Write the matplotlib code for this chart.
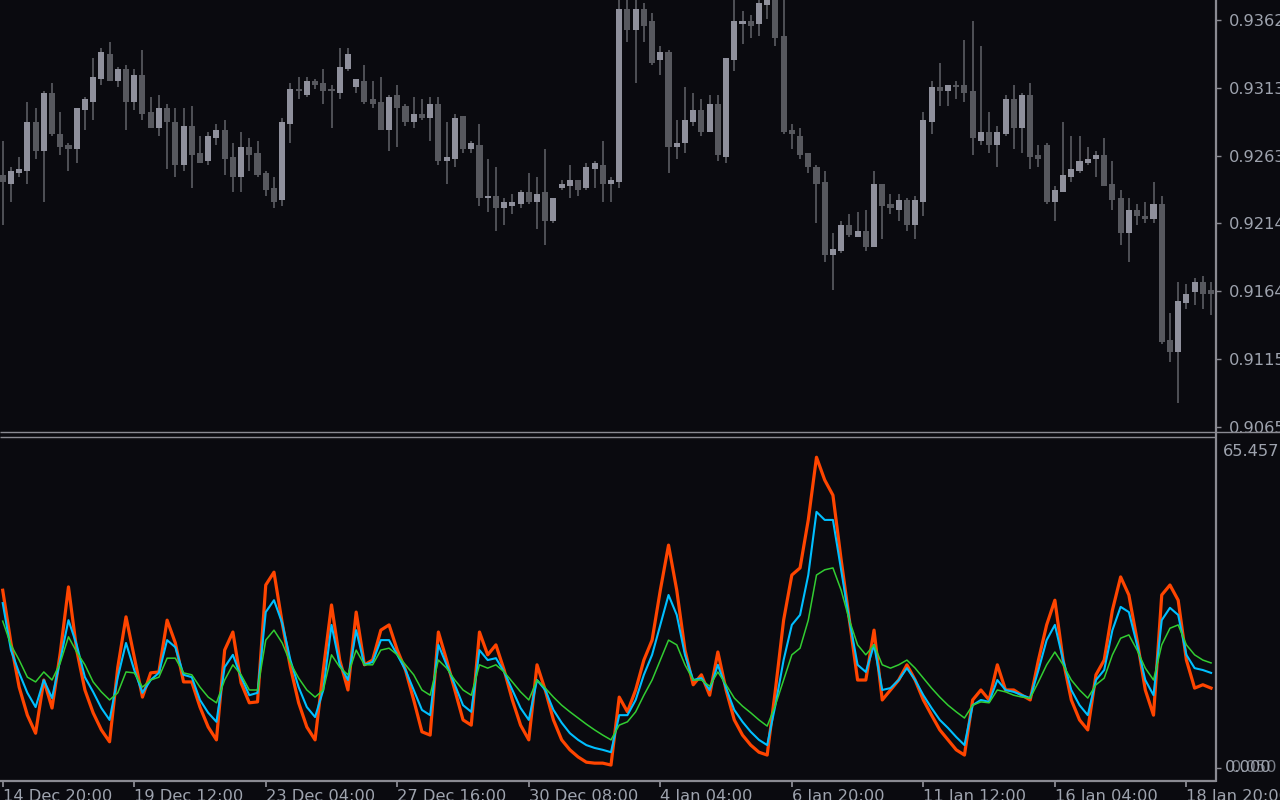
import matplotlib

matplotlib.use("Agg")
import matplotlib.pyplot as plt  # noqa: E402
from matplotlib.lines import Line2D  # noqa: E402

W, H = 1280, 800
BG = "#0a0a0f"
FRAME = "#8a8a92"
TEXT = "#9ea3ae"
BULL = "#8f909c"
BEAR = "#57585e"
WICK = "#55565c"

# H4 candles, oldest first
opens = [0.92489, 0.92423, 0.92503, 0.92518, 0.92875, 0.92664, 0.93087, 0.92788, 0.92708, 0.92678,
         0.92963, 0.93021, 0.93189, 0.93372, 0.93175, 0.93262, 0.93021, 0.93219, 0.92948, 0.92832,
         0.92978, 0.92875, 0.92562, 0.92846, 0.92649, 0.92591, 0.92759, 0.92817, 0.92620, 0.92474,
         0.92693, 0.92649, 0.92503, 0.92394, 0.92306, 0.92861, 0.93116, 0.93073, 0.93175, 0.93160,
         0.93116, 0.93087, 0.93262, 0.93131, 0.93175, 0.93043, 0.93021, 0.92817, 0.93073, 0.92992,
         0.92875, 0.92934, 0.92905, 0.93007, 0.92591, 0.92605, 0.92919, 0.92678, 0.92708, 0.92321,
         0.92335, 0.92248, 0.92262, 0.92277, 0.92364, 0.92291, 0.92364, 0.92153, 0.92394, 0.92408,
         0.92452, 0.92394, 0.92532, 0.92562, 0.92423, 0.92437, 0.93700, 0.93547, 0.93700, 0.93613,
         0.93328, 0.93386, 0.92693, 0.92722, 0.92875, 0.92963, 0.92802, 0.93007, 0.92620, 0.93328,
         0.93591, 0.93613, 0.93591, 0.93730, 0.93795, 0.93503, 0.92817, 0.92773, 0.92649, 0.92547,
         0.92437, 0.91905, 0.91934, 0.92124, 0.92036, 0.92080, 0.91963, 0.92423, 0.92277, 0.92233,
         0.92306, 0.92124, 0.92291, 0.92875, 0.93131, 0.93102, 0.93146, 0.93146, 0.93102, 0.92737,
         0.92802, 0.92708, 0.92788, 0.93043, 0.92832, 0.93073, 0.92635, 0.92708, 0.92291, 0.92364,
         0.92474, 0.92518, 0.92576, 0.92605, 0.92635, 0.92423, 0.92321, 0.92065, 0.92233, 0.92189,
         0.92167, 0.92277, 0.91284, 0.91196, 0.91554, 0.91634, 0.91707, 0.91649]
highs = [0.92737, 0.92547, 0.92620, 0.93021, 0.92978, 0.93102, 0.93160, 0.92948, 0.92722, 0.92978,
         0.93058, 0.93343, 0.93416, 0.93459, 0.93277, 0.93292, 0.93262, 0.93401, 0.93058, 0.93073,
         0.93007, 0.92978, 0.92978, 0.92992, 0.92773, 0.92802, 0.92861, 0.92890, 0.92722, 0.92802,
         0.92759, 0.92737, 0.92518, 0.92474, 0.92905, 0.93160, 0.93204, 0.93204, 0.93189, 0.93262,
         0.93146, 0.93416, 0.93416, 0.93189, 0.93292, 0.93175, 0.93204, 0.93073, 0.93146, 0.93007,
         0.93058, 0.93043, 0.93058, 0.93058, 0.92875, 0.92934, 0.92919, 0.92737, 0.92861, 0.92605,
         0.92547, 0.92321, 0.92350, 0.92379, 0.92503, 0.92474, 0.92678, 0.92321, 0.92452, 0.92562,
         0.92452, 0.92576, 0.92591, 0.92737, 0.92474, 0.93788, 0.93788, 0.93788, 0.93744, 0.93671,
         0.93430, 0.93401, 0.92890, 0.93131, 0.93087, 0.93043, 0.93073, 0.93073, 0.93343, 0.93788,
         0.93686, 0.93657, 0.93788, 0.93810, 0.93839, 0.93803, 0.92861, 0.92832, 0.92649, 0.92562,
         0.92518, 0.92065, 0.92153, 0.92204, 0.92218, 0.92233, 0.92518, 0.92423, 0.92350, 0.92350,
         0.92321, 0.92335, 0.92948, 0.93175, 0.93306, 0.93146, 0.93175, 0.93474, 0.93613, 0.93430,
         0.92948, 0.92846, 0.93073, 0.93146, 0.93087, 0.93160, 0.92708, 0.92722, 0.92408, 0.92875,
         0.92773, 0.92773, 0.92693, 0.92664, 0.92759, 0.92591, 0.92379, 0.92321, 0.92277, 0.92291,
         0.92437, 0.92335, 0.91481, 0.91707, 0.91693, 0.91737, 0.91751, 0.91707]
lows = [0.92124, 0.92291, 0.92474, 0.92423, 0.92605, 0.92291, 0.92773, 0.92635, 0.92518, 0.92576,
        0.92817, 0.92890, 0.93146, 0.93175, 0.93131, 0.92817, 0.92963, 0.92890, 0.92832, 0.92773,
        0.92532, 0.92474, 0.92518, 0.92394, 0.92576, 0.92562, 0.92708, 0.92489, 0.92364, 0.92364,
        0.92518, 0.92474, 0.92335, 0.92248, 0.92262, 0.92722, 0.93043, 0.93058, 0.93116, 0.93007,
        0.92832, 0.93043, 0.93248, 0.93087, 0.93007, 0.92978, 0.92817, 0.92664, 0.92693, 0.92846,
        0.92832, 0.92890, 0.92737, 0.92562, 0.92423, 0.92547, 0.92649, 0.92649, 0.92262, 0.92218,
        0.92080, 0.92124, 0.92204, 0.92248, 0.92277, 0.92094, 0.91978, 0.92138, 0.92379, 0.92321,
        0.92335, 0.92379, 0.92394, 0.92291, 0.92291, 0.92394, 0.93459, 0.93160, 0.93459, 0.93292,
        0.93219, 0.92503, 0.92605, 0.92649, 0.92846, 0.92773, 0.92802, 0.92591, 0.92576, 0.93248,
        0.93445, 0.93489, 0.93503, 0.93627, 0.93430, 0.92788, 0.92678, 0.92605, 0.92503, 0.92138,
        0.91853, 0.91649, 0.91919, 0.92036, 0.92036, 0.91934, 0.91963, 0.92021, 0.92204, 0.92153,
        0.92080, 0.92021, 0.92189, 0.92788, 0.92992, 0.92992, 0.93043, 0.93021, 0.92635, 0.92708,
        0.92649, 0.92547, 0.92773, 0.92678, 0.92649, 0.92532, 0.92547, 0.92277, 0.92153, 0.92364,
        0.92437, 0.92503, 0.92562, 0.92474, 0.92408, 0.92233, 0.91978, 0.91853, 0.92124, 0.92138,
        0.92138, 0.91255, 0.91123, 0.90824, 0.91510, 0.91540, 0.91510, 0.91467]
closes = [0.92437, 0.92518, 0.92532, 0.92875, 0.92664, 0.93087, 0.92788, 0.92693, 0.92678, 0.92978,
          0.93043, 0.93204, 0.93386, 0.93175, 0.93262, 0.93021, 0.93219, 0.92934, 0.92832, 0.92978,
          0.92875, 0.92562, 0.92846, 0.92635, 0.92576, 0.92773, 0.92817, 0.92605, 0.92474, 0.92693,
          0.92635, 0.92489, 0.92379, 0.92291, 0.92875, 0.93116, 0.93102, 0.93175, 0.93146, 0.93102,
          0.93102, 0.93277, 0.93372, 0.93189, 0.93021, 0.93007, 0.92817, 0.93058, 0.92978, 0.92875,
          0.92934, 0.92905, 0.93007, 0.92591, 0.92620, 0.92905, 0.92678, 0.92722, 0.92321, 0.92335,
          0.92248, 0.92291, 0.92291, 0.92364, 0.92291, 0.92350, 0.92153, 0.92321, 0.92423, 0.92452,
          0.92379, 0.92547, 0.92576, 0.92423, 0.92452, 0.93700, 0.93547, 0.93700, 0.93576, 0.93306,
          0.93386, 0.92693, 0.92722, 0.92890, 0.92963, 0.92802, 0.93007, 0.92635, 0.93343, 0.93613,
          0.93613, 0.93576, 0.93744, 0.93781, 0.93489, 0.92802, 0.92788, 0.92635, 0.92547, 0.92423,
          0.91905, 0.91948, 0.92124, 0.92051, 0.92080, 0.91963, 0.92423, 0.92262, 0.92248, 0.92306,
          0.92124, 0.92306, 0.92890, 0.93131, 0.93102, 0.93146, 0.93131, 0.93087, 0.92759, 0.92802,
          0.92708, 0.92802, 0.93043, 0.92832, 0.93073, 0.92620, 0.92605, 0.92291, 0.92379, 0.92489,
          0.92532, 0.92591, 0.92605, 0.92635, 0.92408, 0.92306, 0.92065, 0.92233, 0.92189, 0.92167,
          0.92277, 0.91269, 0.91196, 0.91569, 0.91620, 0.91707, 0.91620, 0.91620]

# indicator window: three smoothed lines
line_fast = [37.0, 25.9, 16.6, 10.7, 6.9, 18.1, 12.2, 23.8, 37.7, 24.4,
             16.0, 11.2, 7.6, 5.1, 20.8, 31.4, 22.9, 14.5, 19.6, 19.8,
             30.7, 25.9, 17.7, 17.7, 12.4, 8.2, 5.5, 24.4, 28.2, 17.5,
             13.3, 13.5, 38.1, 40.8, 30.1, 20.8, 13.3, 8.2, 5.5, 20.2,
             33.9, 22.3, 16.0, 32.4, 21.3, 22.3, 28.6, 29.7, 24.4, 20.2,
             13.9, 7.2, 6.5, 28.2, 22.3, 16.0, 9.7, 8.6, 28.2, 23.4,
             25.5, 20.2, 13.9, 8.6, 5.5, 21.3, 16.0, 9.7, 5.5, 3.4,
             1.9, 0.8, 0.6, 0.6, 0.2, 14.5, 11.4, 16.0, 22.3, 26.5,
             37.0, 46.5, 37.0, 24.4, 17.1, 19.2, 14.9, 24.0, 16.0, 9.7,
             6.5, 4.4, 2.9, 2.3, 16.0, 30.7, 40.2, 41.7, 51.8, 65.0,
             60.2, 57.0, 43.4, 30.7, 18.1, 18.1, 28.6, 13.9, 16.0, 18.1,
             21.3, 18.1, 13.9, 10.7, 7.6, 5.5, 3.4, 2.3, 13.9, 16.0,
             13.9, 21.3, 16.0, 16.0, 14.9, 13.9, 22.3, 29.7, 34.9, 22.3,
             13.9, 9.7, 7.6, 19.2, 22.3, 32.8, 39.8, 36.0, 26.5, 16.0,
             10.7, 36.0, 38.1, 34.9, 22.3, 16.4, 17.1, 16.4]
line_mid = [34.3, 24.4, 19.6, 15.4, 12.4, 18.1, 14.3, 22.3, 30.7, 25.5,
            18.7, 15.6, 12.2, 9.7, 18.7, 25.9, 20.2, 15.4, 18.1, 19.6,
            26.5, 25.0, 19.2, 18.7, 13.9, 11.2, 9.3, 20.8, 23.4, 18.7,
            14.9, 15.4, 32.4, 34.9, 30.1, 22.3, 16.6, 12.4, 10.3, 16.0,
            29.7, 21.3, 18.1, 28.6, 21.3, 21.9, 26.5, 26.5, 23.4, 20.2,
            16.0, 11.8, 10.7, 25.5, 21.3, 17.1, 12.8, 11.4, 24.4, 22.3,
            22.7, 19.8, 16.0, 12.2, 9.7, 18.1, 16.0, 11.8, 9.1, 6.9,
            5.5, 4.4, 3.8, 3.4, 2.9, 10.7, 10.7, 13.9, 19.2, 23.4,
            29.7, 36.0, 31.8, 23.4, 18.1, 18.5, 16.0, 21.3, 16.4, 11.8,
            9.3, 7.2, 5.5, 4.4, 12.8, 22.3, 29.7, 31.8, 40.2, 53.5,
            51.8, 51.8, 41.3, 30.7, 21.3, 19.8, 25.5, 16.0, 16.4, 18.1,
            20.6, 18.1, 14.9, 12.2, 9.7, 8.0, 6.1, 4.4, 12.8, 13.9,
            13.5, 18.1, 16.0, 15.6, 14.9, 14.3, 20.2, 26.5, 29.7, 22.3,
            16.0, 12.8, 10.7, 18.1, 20.2, 28.6, 33.5, 32.4, 25.5, 18.1,
            14.9, 30.7, 33.3, 31.8, 23.4, 20.6, 20.2, 19.6]
line_slow = [30.5, 25.5, 22.3, 18.7, 17.7, 19.8, 18.1, 21.7, 27.2, 24.0,
             21.3, 17.7, 15.6, 13.9, 15.4, 19.8, 19.6, 16.6, 18.1, 18.7,
             22.7, 22.7, 19.6, 19.2, 16.6, 14.5, 13.3, 18.1, 21.3, 19.2,
             16.0, 16.0, 26.5, 28.6, 25.9, 21.7, 18.5, 16.0, 14.5, 16.0,
             23.4, 20.8, 19.2, 24.4, 21.3, 21.3, 24.4, 24.8, 23.4, 21.3,
             19.2, 16.0, 14.9, 22.3, 20.6, 18.1, 16.0, 14.9, 21.3, 20.6,
             21.3, 19.8, 17.7, 15.6, 13.9, 18.1, 16.4, 14.5, 12.8, 11.4,
             10.1, 8.8, 7.6, 6.5, 5.5, 8.6, 9.3, 11.4, 14.9, 18.1,
             22.3, 26.5, 25.5, 21.3, 18.1, 18.1, 16.8, 19.8, 17.1, 14.3,
             12.6, 11.2, 9.7, 8.4, 12.8, 18.1, 23.4, 24.8, 30.7, 40.2,
             41.3, 41.7, 37.0, 30.7, 25.5, 23.4, 25.5, 21.3, 20.6, 21.3,
             22.3, 20.6, 18.5, 16.4, 14.5, 12.8, 11.4, 10.1, 12.8, 13.5,
             13.3, 16.0, 15.6, 14.9, 14.5, 14.3, 17.7, 21.3, 24.0, 21.3,
             18.1, 16.0, 14.3, 17.1, 18.5, 23.4, 26.9, 27.6, 24.4, 20.6,
             18.1, 25.5, 29.0, 29.7, 25.5, 23.4, 22.3, 21.7]

price_ticks = [0.93620, 0.93124, 0.92629, 0.92138, 0.91642, 0.91145, 0.90649]
price_labels = ["0.9362", "0.9313", "0.9263", "0.9214", "0.9164", "0.9115", "0.9065"]
date_labels = ["14 Dec 20:00", "19 Dec 12:00", "23 Dec 04:00", "27 Dec 16:00", "30 Dec 08:00",
               "4 Jan 04:00", "6 Jan 20:00", "11 Jan 12:00", "16 Jan 04:00", "18 Jan 20:00"]
date_step = 16
ind_max_label = "65.457"
ind_min_labels = ["0.000", "0.050"]


def px_rect(x0, y0, x1, y1):
    """Figure rect from pixel box (top-left origin)."""
    return [x0 / W, 1 - y1 / H, (x1 - x0) / W, (y1 - y0) / H]


def fig_line(fig, xs, ys, lw=1.0, color=FRAME):
    fig.add_artist(Line2D([x / W for x in xs], [1 - y / H for y in ys],
                          transform=fig.transFigure, color=color, lw=lw,
                          solid_capstyle="butt"))


def fig_text(fig, x, y, s, **kw):
    fig.text(x / W, 1 - y / H, s, color=TEXT, fontsize=11.7, va="center", ha="left", **kw)


plt.rcParams["font.family"] = ["DejaVu Sans"]
fig = plt.figure(figsize=(W / 100, H / 100), dpi=100, facecolor=BG)

PLOT_R = 1215
ax = fig.add_axes(px_rect(0, 0, PLOT_R, 432), facecolor=BG)
sub = fig.add_axes(px_rect(0, 436, PLOT_R, 781), facecolor=BG)

n = len(opens)
xs = list(range(n))
xlim = (-0.33, 147.48)

# candles
up = [c >= o for o, c in zip(opens, closes)]
min_body = 0.00011
bottoms = [min(o, c) for o, c in zip(opens, closes)]
heights = [max(abs(c - o), min_body) for o, c in zip(opens, closes)]
ax.vlines(xs, lows, highs, color=WICK, lw=1.3, zorder=1)
ax.bar(xs, heights, bottom=bottoms, width=0.74,
       color=[BULL if u else BEAR for u in up], linewidth=0, zorder=2)
ax.set_xlim(*xlim)
ax.set_ylim(0.90612, 0.93766)

for a in (ax, sub):
    for s in a.spines.values():
        s.set_visible(False)
    a.set_xticks([])

ax.yaxis.tick_right()
ax.set_yticks(price_ticks)
ax.set_yticklabels(price_labels)
ax.tick_params(axis="y", length=4, width=1, color=FRAME, labelcolor=TEXT,
               labelsize=11.7, pad=6, direction="out")

# indicator window
sub.plot(xs, line_fast, color="#ff4500", lw=2.3, zorder=3)
sub.plot(xs, line_mid, color="#00bfff", lw=1.5, zorder=4)
sub.plot(xs, line_slow, color="#32cd32", lw=1.1, zorder=5)
sub.set_xlim(*xlim)
sub.set_ylim(-3.16, 69.47)
sub.set_yticks([-0.4])
sub.set_yticklabels([""])
sub.tick_params(axis="y", right=True, left=False, length=4, width=1, color=FRAME,
                direction="out")

sub.set_xticks(list(range(0, n, date_step)))
sub.set_xticklabels(date_labels, ha="left")
sub.tick_params(axis="x", length=4.5, width=1.3, color=FRAME, labelcolor=TEXT,
                labelsize=11.7, pad=1, direction="out")

fig_text(fig, 1223, 452, ind_max_label)
fig_text(fig, 1225, 768, ind_min_labels[0])
fig_text(fig, 1231, 768, ind_min_labels[1], alpha=0.75)

# window frames
fig_line(fig, [PLOT_R + 0.5, PLOT_R + 0.5], [0, 781.5], lw=1.6)
fig_line(fig, [0, W], [432, 432], lw=1.0)
fig_line(fig, [0, PLOT_R + 1], [436.5, 436.5], lw=1.0)
fig_line(fig, [0, PLOT_R + 1], [781, 781], lw=1.6)

fig.savefig("out.png", dpi=100, facecolor=BG)
